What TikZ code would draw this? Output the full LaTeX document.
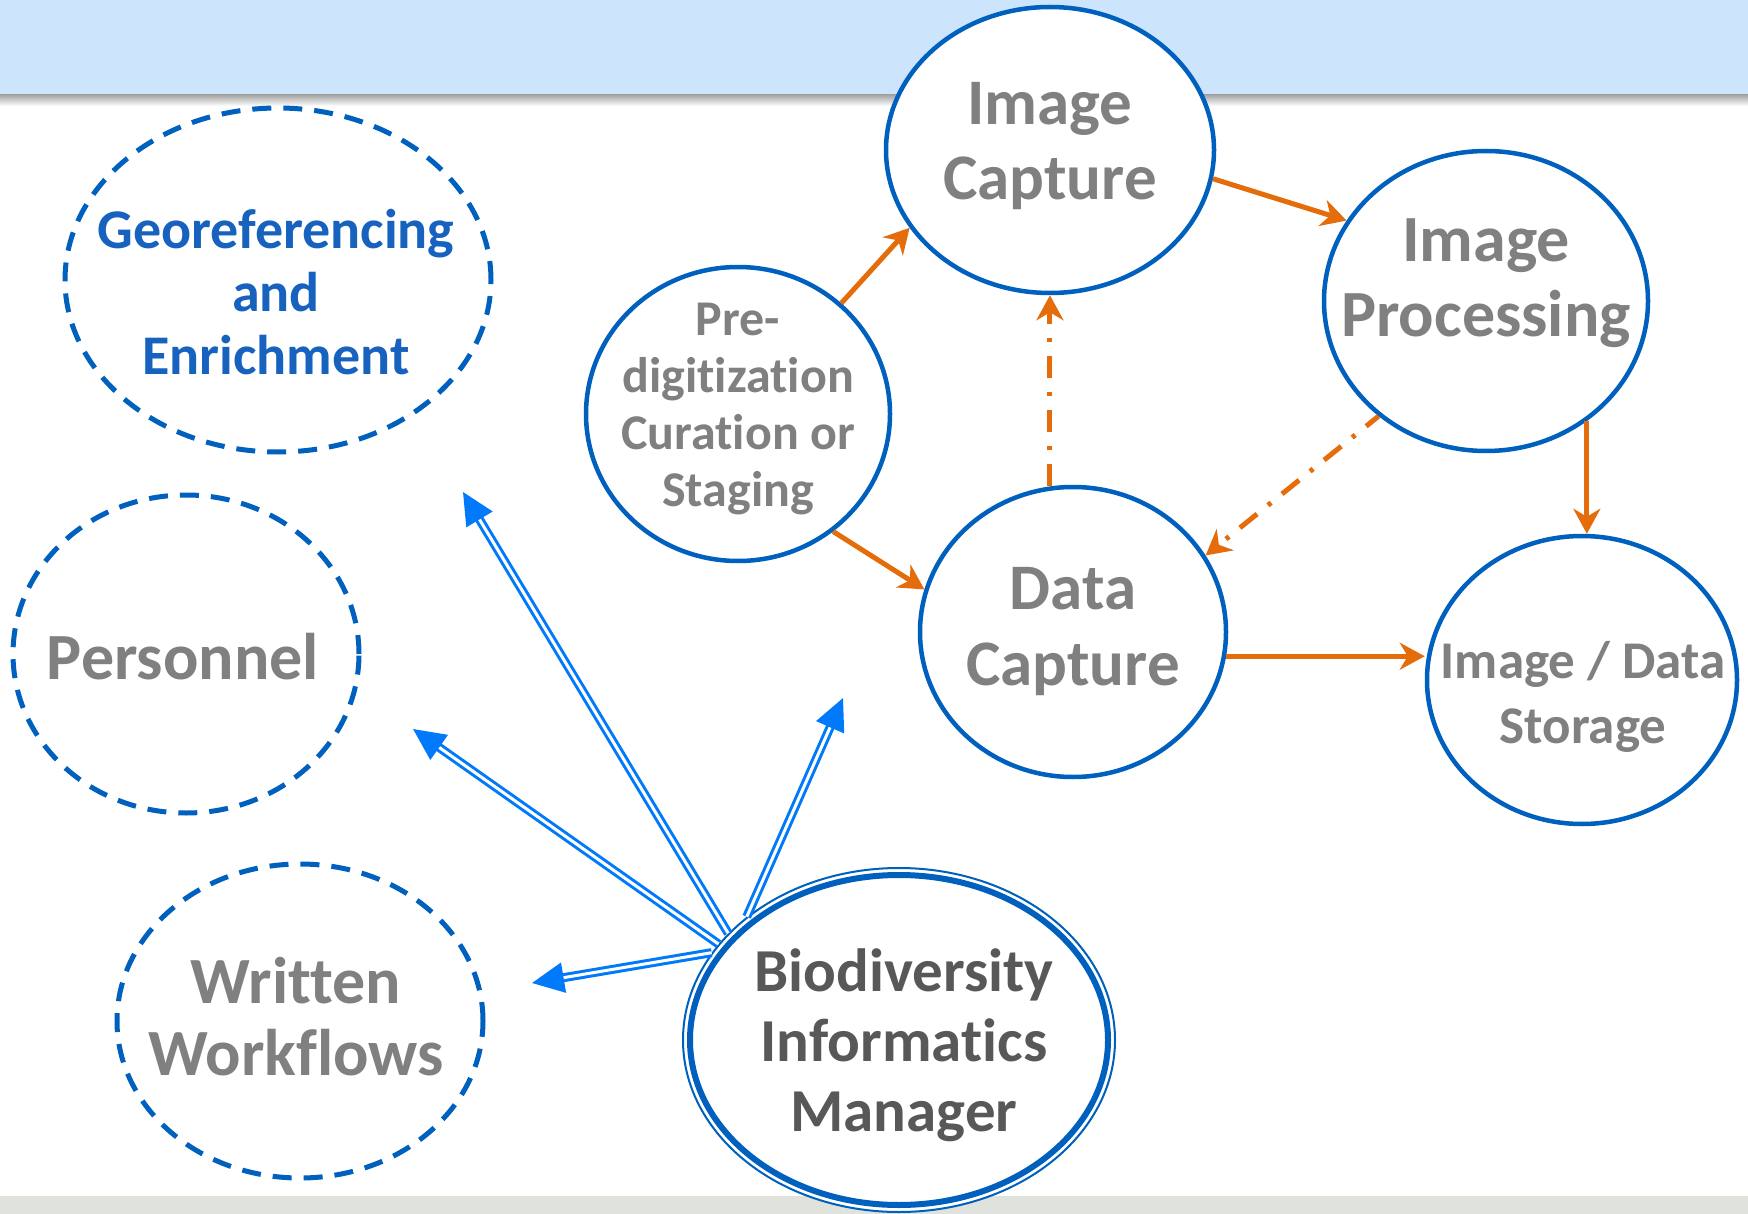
\documentclass[tikz,border=0pt]{standalone}
\usepackage{fontspec}
\setmainfont{Carlito}[Ligatures={NoCommon,NoContextual}]
\usetikzlibrary{shapes.geometric,arrows.meta}
\definecolor{bandblue}{RGB}{204,229,252}
\definecolor{bandgray}{RGB}{224,226,220}
\definecolor{ringblue}{RGB}{0,96,190}
\definecolor{arrowblue}{RGB}{0,122,250}
\definecolor{flow}{RGB}{228,108,10}
\definecolor{txtgray}{RGB}{128,128,128}
\definecolor{txtdark}{RGB}{88,88,88}
\definecolor{georef}{RGB}{22,98,190}
\begin{document}
\begin{tikzpicture}[x=1pt,y=-1pt,
  solidring/.style={ellipse, draw=ringblue, line width=4.5pt, fill=white, inner sep=0pt},
  dashring/.style={ellipse, draw=ringblue, line width=5pt, dash pattern=on 19pt off 12pt, inner sep=0pt},
  lbl/.style={align=center, inner sep=0pt, text=txtgray},
  flowarrow/.style={draw=flow, line width=5pt, -{Stealth[length=25pt,width=27pt,inset=8pt]}},
  flowdash/.style={flowarrow, dash pattern=on 22pt off 14pt on 4pt off 14pt},
  mgrarrow/.style={draw=arrowblue, double=white, line width=3pt, double distance=3pt, -{Triangle[length=32pt,width=30pt]}}
]
\useasboundingbox (0,0) rectangle (1748,1214);
% bands
\fill[white] (0,0) rectangle (1748,1214);
\fill[bandblue] (0,0) rectangle (1748,95);
\shade[top color=black!35, bottom color=white] (0,95) rectangle (1748,106);
\fill[bandgray] (0,1196) rectangle (1748,1214);

% rings
\node[solidring, minimum width=328pt, minimum height=286pt] (ic) at (1050,150) {};
\node[solidring, minimum width=324pt, minimum height=300pt] (ip) at (1486,301) {};
\node[solidring, minimum width=304pt, minimum height=294pt] (pre) at (738,414) {};
\node[solidring, minimum width=306pt, minimum height=290pt] (dc) at (1073,632) {};
\node[solidring, minimum width=310pt, minimum height=288pt] (st) at (1582,680) {};
\node[dashring, minimum width=426pt, minimum height=344pt] (geo) at (278,280) {};
\node[dashring, minimum width=346pt, minimum height=318pt] (pers) at (186,654) {};
\node[dashring, minimum width=366pt, minimum height=314pt] (ww) at (300,1021) {};
\node[ellipse, draw=ringblue, line width=2pt, fill=white, inner sep=0pt, minimum width=432pt, minimum height=344pt] (bim) at (899,1040) {};
\node[ellipse, draw=ringblue, line width=6pt, inner sep=0pt, minimum width=418pt, minimum height=330pt] (bimin) at (bim.center) {};

% orange flow
\draw[flowarrow] (pre.47) -- (ic.209);
\draw[flowarrow] (ic.350) -- (ip.150);
\draw[flowarrow] (pre.309) -- (dc.164);
\draw[flowdash] (dc.99) -- (dc.99 |- ic.south);
\draw[flowdash, dash phase=6pt] (ip.227) -- (dc.30);
\draw[flowarrow] (ip.310) -- (ip.310 |- st.north);
\draw[flowarrow] (dc.351) -- (dc.351 -| st.west);

% manager arrows
\coordinate (tipgeo) at (463,492);
\coordinate (tippers) at (413,729);
\coordinate (tipww) at (532,983);
\coordinate (tipdc) at (843,698);
\draw[mgrarrow] (bim.148) -- (tipgeo);
\draw[mgrarrow] (bim.152) -- (tippers);
\draw[mgrarrow] (bim.155) -- (tipww);
\draw[mgrarrow] (bim.141) -- (tipdc);

% labels
\node[lbl, font=\bfseries\fontsize{65}{75}\selectfont] (ict) at (1050,146) {Image\\Capture};
\node[lbl, font=\bfseries\fontsize{66}{75}\selectfont] (ipt) at (1486,283) {Image\\Processing};
\node[lbl, font=\bfseries\fontsize{50}{57}\selectfont] (pret) at (738,409) {Pre-\\digitization\\Curation or\\Staging};
\node[lbl, font=\bfseries\fontsize{65}{76}\selectfont] (dct) at (1073,632) {Data\\Capture};
\node[lbl, font=\bfseries\fontsize{53}{65}\selectfont] (stt) at (1583,697) {Image / Data\\Storage};
\node[lbl, text=georef, font=\bfseries\fontsize{56}{63}\selectfont] (geot) at (276,292) {Georeferencing\\and\\Enrichment};
\node[lbl, font=\bfseries\fontsize{66}{75}\selectfont] (perst) at (183,657) {Personnel};
\node[lbl, font=\bfseries\fontsize{66}{72}\selectfont] (wwt) at (296,1017) {Written\\Workflows};
\node[lbl, text=txtdark, font=\bfseries\fontsize{61}{70}\selectfont] (bimt) at (904,1045) {Biodiversity\\Informatics\\Manager};
\end{tikzpicture}
\end{document}
